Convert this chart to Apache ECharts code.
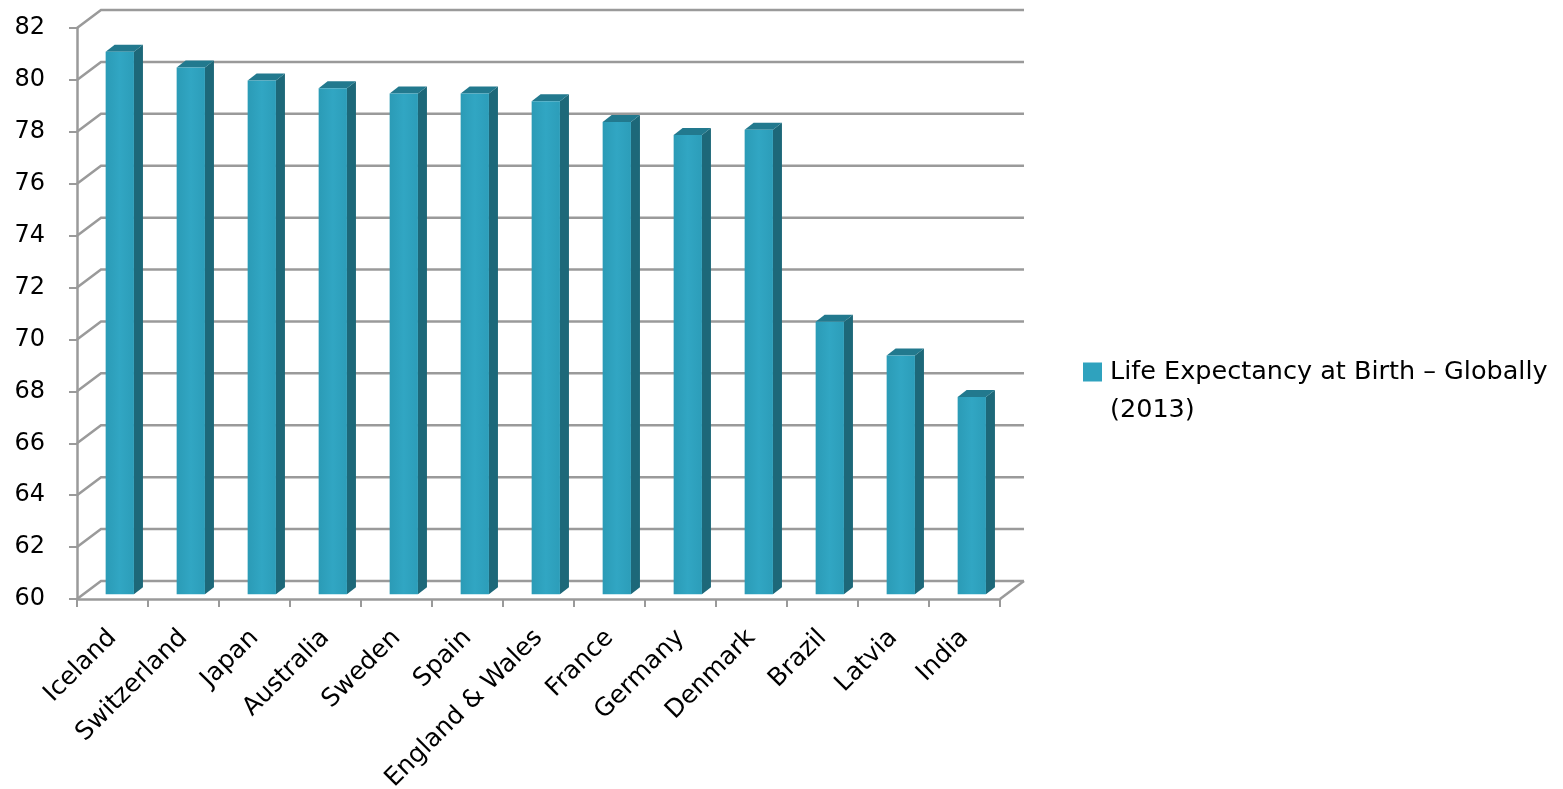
<!DOCTYPE html>
<html>
<head>
<meta charset="utf-8">
<script src="https://cdn.jsdelivr.net/npm/echarts@6/dist/echarts.min.js"></script>
<style>
  html, body { margin: 0; padding: 0; background: #fff; }
  #chart { width: 1563px; height: 789px; }
</style>
</head>
<body>
<div id="chart"></div>
<script>
const categories = ['Iceland', 'Switzerland', 'Japan', 'Australia', 'Sweden', 'Spain', 'England & Wales', 'France', 'Germany', 'Denmark', 'Brazil', 'Latvia', 'India'];
const lifeExpectancy = [80.9, 80.3, 79.8, 79.5, 79.3, 79.3, 79.0, 78.2, 77.7, 77.9, 70.5, 69.2, 67.6];
const yTicks = [60, 62, 64, 66, 68, 70, 72, 74, 76, 78, 80, 82];
const seriesName = 'Life Expectancy at Birth – Globally (2013)';

const yMin = 60, yMax = 82, yStep = 2;
const FONT = 'DejaVu Sans';
const GRID_COLOR = '#9a9a9a';
const WALL = [24, -18];       // depth offset of back wall
const BAR_SHIFT = [7.3, -4.7]; // bar front face offset from front plane
const BAR_DEPTH = [9, -7];
const BAR_W = 28.3;
const FRONT = '#2fa2be', TOP = '#22798e', SIDE = '#1d6879';

const chart = echarts.init(document.getElementById('chart'), null, { renderer: 'canvas' });

const option = {
  animation: false,
  backgroundColor: '#ffffff',
  grid: { left: 77, right: 563, top: 28, bottom: 190, containLabel: false, outerBoundsMode: 'none' },
  legend: {
    data: [seriesName],
    left: 1078,
    top: 310,
    orient: 'vertical',
    icon: 'rect',
    itemWidth: 19,
    itemHeight: 19,
    itemGap: 0,
    selectedMode: false,
    formatter: n => '\n' + n.replace(' (', '\n('),
    textStyle: { fontFamily: FONT, fontSize: 25.5, color: '#000', lineHeight: 38, padding: [0, 0, 0, 3] }
  },
  xAxis: {
    type: 'category',
    data: categories,
    boundaryGap: true,
    axisLine: { show: true, lineStyle: { color: GRID_COLOR, width: 2.5 } },
    axisTick: { show: true, length: 8, lineStyle: { color: GRID_COLOR, width: 2 } },
    axisLabel: { rotate: 45, margin: 35, fontFamily: FONT, fontSize: 25, color: '#000', interval: 0 },
    splitLine: { show: false }
  },
  yAxis: {
    type: 'value',
    min: yMin, max: yMax, interval: yStep,
    axisLine: { show: true, lineStyle: { color: GRID_COLOR, width: 2.5 } },
    axisTick: { show: true, length: 8, lineStyle: { color: GRID_COLOR, width: 2 } },
    axisLabel: { margin: 32, fontFamily: FONT, fontSize: 24, color: '#000',
      formatter: v => yTicks.indexOf(v) >= 0 ? String(v) : '' },
    splitLine: { show: false }
  },
  series: [
    {
      type: 'custom',
      name: 'walls',
      silent: true,
      z: 1,
      encode: { x: 0, y: 1 },
      data: yTicks.map(v => [0, v]),
      renderItem: function (params, api) {
        const cs = params.coordSys;
        const v = api.value(1);
        const y = api.coord([0, v])[1];
        const x0 = cs.x, x1 = cs.x + cs.width;
        const style = { stroke: GRID_COLOR, lineWidth: 2.5, fill: null };
        const children = [
          { type: 'polyline', shape: { points: [[x0, y], [x0 + WALL[0], y + WALL[1]], [x1 + WALL[0], y + WALL[1]]] }, style: style }
        ];
        if (v === yMin) {
          children.push({ type: 'line', shape: { x1: x1, y1: y, x2: x1 + WALL[0], y2: y + WALL[1] }, style: style });
        }
        return { type: 'group', children: children };
      }
    },
    {
      type: 'custom',
      name: seriesName,
      z: 3,
      itemStyle: { color: FRONT },
      encode: { x: 0, y: 1 },
      data: lifeExpectancy.map((v, i) => [i, v]),
      renderItem: function (params, api) {
        const i = api.value(0), v = api.value(1);
        const base = api.coord([i, yMin]);
        const top = api.coord([i, v]);
        const xL = base[0] - BAR_W / 2 + BAR_SHIFT[0];
        const xR = xL + BAR_W;
        const yb = base[1] + BAR_SHIFT[1];
        const yt = top[1] + BAR_SHIFT[1];
        const dx = BAR_DEPTH[0], dy = BAR_DEPTH[1];
        return {
          type: 'group',
          children: [
            { type: 'polygon', shape: { points: [[xR, yt], [xR + dx, yt + dy], [xR + dx, yb + dy], [xR, yb]] }, style: { fill: SIDE } },
            { type: 'polygon', shape: { points: [[xL, yt], [xR, yt], [xR + dx, yt + dy], [xL + dx, yt + dy]] }, style: { fill: TOP } },
            { type: 'rect', shape: { x: xL, y: yt, width: BAR_W, height: yb - yt },
              style: { fill: new echarts.graphic.LinearGradient(0, 0, 1, 0, [
                { offset: 0, color: '#2b9bb6' }, { offset: 0.5, color: '#31a6c3' }, { offset: 1, color: '#2c9db9' }]) } }
          ]
        };
      }
    }
  ]
};

chart.setOption(option);
</script>
</body>
</html>
